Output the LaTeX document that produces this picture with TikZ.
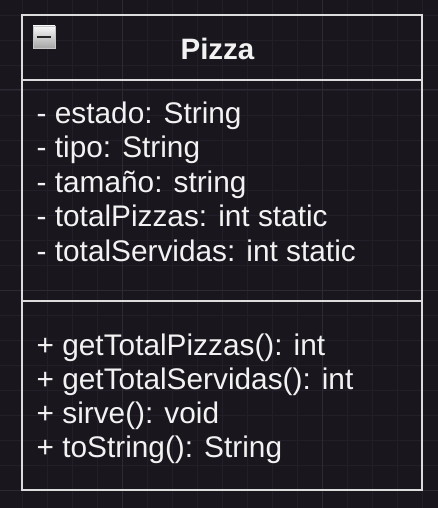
\documentclass[tikz,border=0pt]{standalone}
\usepackage{fontspec}
\setmainfont{Liberation Sans}
\usetikzlibrary{positioning}
\definecolor{cbg}{HTML}{19161E}
\definecolor{cgridminor}{HTML}{221F28}
\definecolor{cgridmajor}{HTML}{2D2A33}
\definecolor{cline}{HTML}{DCDCDC}
\definecolor{ctext}{HTML}{F2F2F2}
\tikzset{
  umltitle/.style={text=ctext, inner sep=0pt, anchor=base,
                   font=\fontsize{29.5}{34.5}\selectfont\bfseries},
  umlrow/.style={text=ctext, inner sep=0pt, anchor=base west,
                 font=\fontsize{29.8}{34.5}\selectfont},
  umlbox/.style={draw=cline, line width=2pt},
}

\begin{document}
\begin{tikzpicture}[x=1pt, y=-1pt]
  % fondo y rejilla
  \fill[cbg] (0,0) rectangle (438,508);
  \useasboundingbox (0,0) rectangle (438,508);
  \foreach \gx in {-3,22,...,447}
    \draw[cgridminor, line width=0.8pt] (\gx,0) -- (\gx,508);
  \foreach \gy in {-10,15,...,515}
    \draw[cgridminor, line width=0.8pt] (0,\gy) -- (438,\gy);
  \foreach \gx in {122,322}
    \draw[cgridmajor, line width=1pt] (\gx,0) -- (\gx,508);
  \foreach \gy in {90,290,490}
    \draw[cgridmajor, line width=1pt] (0,\gy) -- (438,\gy);

  % clase Pizza
  \coordinate (boxnw) at (22,15);
  \coordinate (boxse) at (422,490);
  \draw[umlbox] (boxnw) rectangle (boxse);
  \draw[umlbox] (22,80) -- (422,80);
  \draw[umlbox] (22,300.5) -- (422,300.5);

  % icono de plegar
  \shade[top color=white!95!gray, bottom color=gray!70, draw=gray!45, line width=0.6pt]
    (33,26) rectangle (55,48);
  \draw[black!85, line width=2.6pt] (37,37) -- (51,37);

  \node[umltitle] (title) at (217.5,60) {Pizza};

  % atributos
  \node[umlrow] (estado) at (36.5,123) {- estado: String};
  \node[umlrow] (tipo) at (36.5,157.5) {- tipo: String};
  \node[umlrow] (tamano) at (36.5,192) {- tamaño: string};
  \node[umlrow] (totalpizzas) at (36.5,226.5) {- totalPizzas: int static};
  \node[umlrow] (totalservidas) at (36.5,261) {- totalServidas: int static};

  % métodos
  \node[umlrow] (gettotalpizzas) at (36.5,355) {+ getTotalPizzas(): int};
  \node[umlrow] (gettotalservidas) at (36.5,389) {+ getTotalServidas(): int};
  \node[umlrow] (sirve) at (36.5,423) {+ sirve(): void};
  \node[umlrow] (tostring) at (36.5,457.5) {+ toString(): String};
\end{tikzpicture}
\end{document}
